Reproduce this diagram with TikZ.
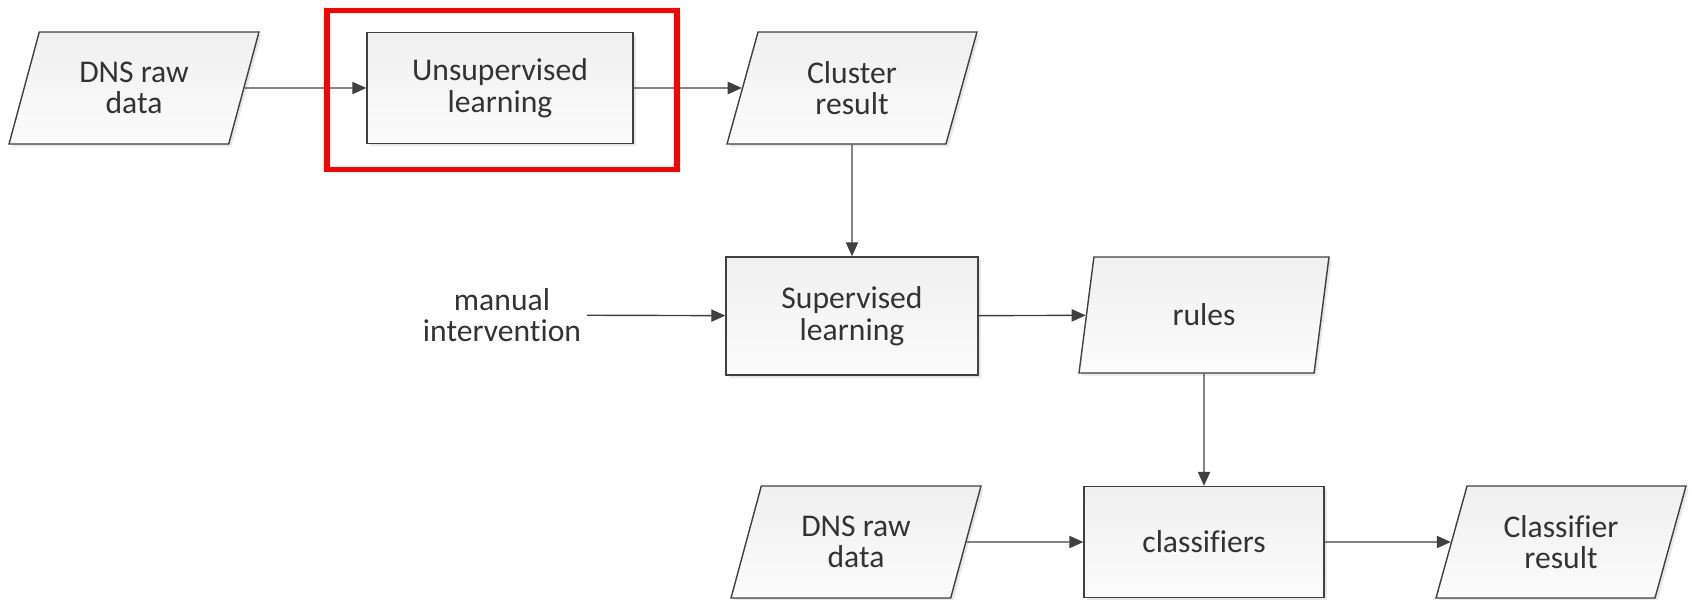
\documentclass[tikz,border=0pt]{standalone}
\usepackage{fontspec}
\setmainfont{Carlito}[Ligatures=CommonOff]
\usetikzlibrary{shapes.geometric,arrows.meta,shadows}

\begin{document}
\begin{tikzpicture}[x=0.02cm,y=-0.02cm,
  font=\fontsize{18}{18}\selectfont, text=black!80,
  box/.style={draw=black!75, line width=0.8pt, top color=gray!12, bottom color=gray!3,
    drop shadow={shadow xshift=1.5pt, shadow yshift=-1.5pt, opacity=0.18, fill=gray},
    align=center, minimum height=2.22cm, inner sep=2pt},
  data/.style={box, trapezium, trapezium left angle=63, trapezium right angle=117,
    trapezium stretches body, minimum width=5cm, minimum height=2.24cm},
  proc/.style={box, rectangle},
  flow/.style={draw=black!75, line width=0.8pt, -{Triangle[length=8pt,width=7pt]}}]
\useasboundingbox (0,0) rectangle (1694,599);

\node[data] at (134,88) (raw1) {DNS raw\\data};
\node[proc, minimum width=5.32cm] at (500,88) (unsup) {Unsupervised\\learning};
\node[data] at (852,88) (cluster) {Cluster\\result};

\node[align=center] at (502,315) (manual) {manual\\intervention};
\node[proc, minimum width=5.04cm, minimum height=2.36cm] at (852,316) (sup) {Supervised\\learning};
\node[data, minimum height=2.32cm] at (1204,315) (rules) {rules};

\node[data] at (856,542) (raw2) {DNS raw\\data};
\node[proc, minimum width=4.8cm] at (1204,542) (clf) {classifiers};
\node[data] at (1561,542) (result) {Classifier\\result};

\draw[flow] (raw1) -- (unsup);
\draw[flow] (unsup) -- (cluster);
\draw[flow] (cluster) -- (sup);
\draw[flow] (manual) -- (sup);
\draw[flow] (sup) -- (rules);
\draw[flow] (rules) -- (clf);
\draw[flow] (raw2) -- (clf);
\draw[flow] (clf) -- (result);

\node[draw=red, line width=3.3pt, minimum width=7cm, minimum height=3.18cm] at (502,90) (focus) {};

\end{tikzpicture}
\end{document}
